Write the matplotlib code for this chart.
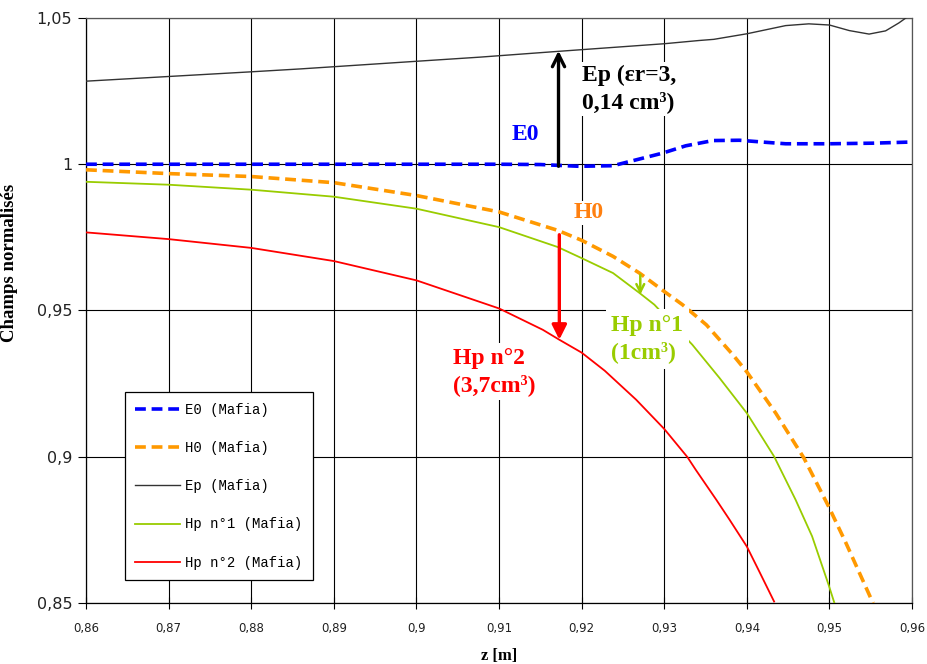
import matplotlib
matplotlib.use('Agg')
import matplotlib.pyplot as plt

# values
z_ep = [0.86, 0.87, 0.88, 0.886, 0.9, 0.9076, 0.9172, 0.93, 0.9342, 0.936, 0.94,
        0.9447, 0.9475, 0.95, 0.9524, 0.9548, 0.9568, 0.9584, 0.96]
ep = [1.0284, 1.0300, 1.0316, 1.0326, 1.0352, 1.0366, 1.0386, 1.0412, 1.0423, 1.0427,
      1.0446, 1.0474, 1.0480, 1.0476, 1.0457, 1.0445, 1.0456, 1.0483, 1.0515]

z_e0 = [0.86, 0.87, 0.88, 0.89, 0.90, 0.91, 0.915, 0.9173, 0.9197, 0.9238, 0.9266,
        0.9298, 0.9326, 0.9359, 0.9391, 0.9423, 0.9447, 0.95, 0.9552, 0.96]
e0 = [1.0, 1.0, 1.0, 1.0, 1.0, 1.0, 0.9999, 0.9996, 0.9993, 0.9995, 1.0015,
      1.0038, 1.0063, 1.0081, 1.0082, 1.0075, 1.0070, 1.0070, 1.0072, 1.0076]

z_h0 = [0.86, 0.87, 0.88, 0.89, 0.90, 0.91, 0.9171, 0.92, 0.9238, 0.927, 0.93,
        0.9322, 0.9351, 0.9383, 0.94, 0.9435, 0.9469, 0.9499, 0.952, 0.955, 0.9553]
h0 = [0.9981, 0.9968, 0.9958, 0.9937, 0.9893, 0.9837, 0.9774, 0.9740, 0.9685, 0.9628, 0.9565,
      0.9520, 0.9451, 0.9349, 0.9290, 0.9149, 0.8996, 0.8830, 0.8705, 0.8517, 0.85]

z_hp1 = [0.86, 0.87, 0.88, 0.89, 0.90, 0.91, 0.9171, 0.92, 0.9238, 0.927, 0.9288,
         0.9334, 0.9367, 0.94, 0.9419, 0.9433, 0.9459, 0.9479, 0.9499, 0.9506]
hp1 = [0.9940, 0.9930, 0.9913, 0.9889, 0.9848, 0.9785, 0.9717, 0.9679, 0.9628, 0.9560, 0.9520,
       0.9383, 0.9269, 0.9149, 0.9064, 0.9001, 0.8853, 0.8728, 0.8562, 0.85]

z_hp2 = [0.86, 0.87, 0.88, 0.89, 0.90, 0.91, 0.9153, 0.9173, 0.92, 0.9228, 0.9266,
         0.93, 0.9328, 0.9338, 0.9363, 0.9379, 0.94, 0.9415, 0.9433]
hp2 = [0.9767, 0.9744, 0.9714, 0.9669, 0.9603, 0.9507, 0.9434, 0.9400, 0.9356, 0.9294, 0.9195,
       0.9095, 0.8999, 0.8956, 0.8853, 0.8785, 0.8693, 0.8608, 0.8505]

xticks = [0.86, 0.87, 0.88, 0.89, 0.90, 0.91, 0.92, 0.93, 0.94, 0.95, 0.96]
xlabels = ['0,86', '0,87', '0,88', '0,89', '0,9', '0,91', '0,92', '0,93', '0,94', '0,95', '0,96']
yticks = [0.85, 0.9, 0.95, 1.0, 1.05]
ylabels = ['0,85', '0,9', '0,95', '1', '1,05']

fig = plt.figure(figsize=(9.28, 6.64), dpi=100)
ax = fig.add_axes([0.0927, 0.0919, 0.8901, 0.881])

ax.plot(z_e0, e0, color='#0000FF', lw=2.6, ls=(0, (3, 1.6)), label='E0 (Mafia)', zorder=3)
ax.plot(z_h0, h0, color='#FF9900', lw=2.6, ls=(0, (3, 1.6)), label='H0 (Mafia)', zorder=3)
ax.plot(z_ep, ep, color='#333333', lw=1.0, label='Ep (Mafia)', zorder=3)
ax.plot(z_hp1, hp1, color='#99CC00', lw=1.3, label='Hp n°1 (Mafia)', zorder=3)
ax.plot(z_hp2, hp2, color='#FF0000', lw=1.3, label='Hp n°2 (Mafia)', zorder=3)

ax.set_xlim(0.86, 0.96)
ax.set_ylim(0.85, 1.05)
ax.set_xticks(xticks)
ax.set_xticklabels(xlabels, fontsize=8.5, color='#222222')
ax.set_yticks(yticks)
ax.set_yticklabels(ylabels, fontsize=11.5, color='#222222')
ax.tick_params(axis='x', direction='inout', length=8, width=0.8, pad=10)
ax.tick_params(axis='y', direction='out', length=6, width=0.8, pad=4)
ax.grid(True, color='black', lw=0.8, zorder=0)
for s in ax.spines.values():
    s.set_linewidth(0.9)
    s.set_color('#555555')
ax.spines['left'].set_color('black')
ax.spines['bottom'].set_color('black')

ax.set_xlabel('z [m]', fontsize=12, fontweight='bold', family='Liberation Serif', labelpad=9)
ax.set_ylabel('Champs normalisés', fontsize=13.5, fontweight='bold', family='Liberation Serif')
ax.yaxis.set_label_coords(-0.082, 0.581)

# annotations
afont = dict(family='Liberation Serif', fontweight='bold', fontsize=17)
ax.annotate('', xy=(0.9172, 1.0388), xytext=(0.9172, 0.9993),
            arrowprops=dict(arrowstyle='->', lw=2.4, color='black', mutation_scale=22,
                            shrinkA=0, shrinkB=0), zorder=5)
ax.text(0.9201, 1.0258, 'Ep (εr=3,\n0,14 cm³)', color='black', ha='left', va='center',
        linespacing=1.3, zorder=6,
        bbox=dict(facecolor='white', edgecolor='none', pad=2), **afont)
ax.text(0.9132, 1.0100, 'E0', color='#0000FF', ha='center', va='center', zorder=6, **afont)
ax.text(0.9209, 0.9834, 'H0', color='#FF8010', ha='center', va='center', zorder=6,
        bbox=dict(facecolor='white', edgecolor='none', pad=1), **afont)

ax.annotate('', xy=(0.9173, 0.9400), xytext=(0.9173, 0.9759),
            arrowprops=dict(arrowstyle='-|>', lw=2.4, color='#FF0000', mutation_scale=22,
                            shrinkA=0, shrinkB=0), zorder=5)
ax.text(0.9044, 0.9291, 'Hp n°2\n(3,7cm³)', color='#FF0000', ha='left', va='center',
        linespacing=1.3, zorder=6,
        bbox=dict(facecolor='white', edgecolor='none', pad=3), **afont)

ax.annotate('', xy=(0.9271, 0.9554), xytext=(0.9271, 0.9622),
            arrowprops=dict(arrowstyle='->', lw=1.8, color='#99CC00', mutation_scale=14,
                            shrinkA=0, shrinkB=0), zorder=5)
ax.text(0.9236, 0.9403, 'Hp n°1\n(1cm³)', color='#99CC00', ha='left', va='center',
        linespacing=1.3, zorder=6,
        bbox=dict(facecolor='white', edgecolor='none', pad=4), **afont)

leg = ax.legend(loc='lower left', bbox_to_anchor=(0.0472, 0.039), borderaxespad=0,
                prop={'family': 'Liberation Mono', 'size': 10},
                fancybox=False, edgecolor='black', framealpha=1,
                handlelength=3.2, labelspacing=1.75, borderpad=0.75, handletextpad=0.4)
leg.get_frame().set_linewidth(0.9)
leg.set_zorder(7)

fig.savefig('out.png', dpi=100)
